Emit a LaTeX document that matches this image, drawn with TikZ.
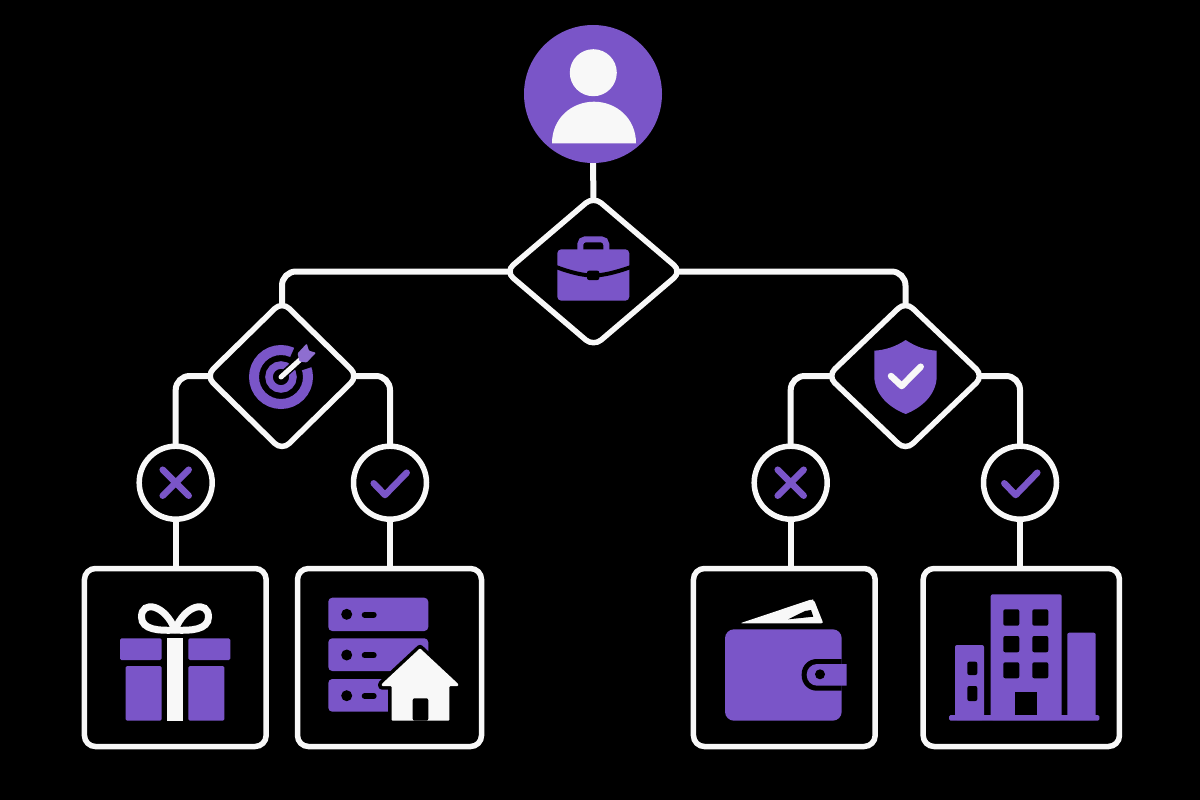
\documentclass[tikz,border=0pt]{standalone}
\usepackage{xcolor}
\usetikzlibrary{shapes.geometric,backgrounds}

\definecolor{brand}{HTML}{7A55C8}
\definecolor{ink}{HTML}{F8F8F8}

\begin{document}
\begin{tikzpicture}[
          x=1pt, y=-1pt,
          wire/.style={draw=ink, line width=6pt, rounded corners=14pt},
          choice/.style={diamond, draw=ink, fill=black, line width=5.5pt, rounded corners=10pt, inner sep=0pt, outer sep=0pt},
          answer/.style={circle, draw=ink, fill=black, line width=5.5pt, minimum size=73pt, inner sep=0pt, outer sep=0pt},
          tile/.style={rectangle, draw=ink, fill=black, line width=5.5pt, rounded corners=11pt, minimum height=178pt, inner sep=0pt, outer sep=0pt},
          solid mark/.style={draw=brand, line width=6.5pt, line cap=round, line join=round},
          hole/.style={fill=black, rounded corners=2pt},
          flat/.style={fill=brand, rounded corners=2pt}
        ]
          \useasboundingbox (0,0) rectangle (1200,800);

          % Top of the tree
          \node[circle, fill=brand, minimum size=138pt, inner sep=0pt, outer sep=0pt] (user) at (593,94) {};
          \node[choice, minimum width=176pt, minimum height=150pt] (role) at (593.5,271.5) {};

          % Second level
          \node[choice, minimum width=152pt, minimum height=149pt] (goal) at (282,376) {};
          \node[choice, minimum width=156pt, minimum height=149pt] (secure) at (905.5,376) {};

          % Answers
          \node[answer] (noA) at (175.7,482.7) {};
          \node[answer] (yesA) at (390,482.7) {};
          \node[answer] (noB) at (790.7,482.7) {};
          \node[answer] (yesB) at (1020,482.7) {};

          % Results
          \node[tile, minimum width=181.7pt] (gift) at (175.3,657.5) {};
          \node[tile, minimum width=184pt] (homeserver) at (389.5,657.5) {};
          \node[tile, minimum width=181.7pt] (wallet) at (784.3,657.5) {};
          \node[tile, minimum width=196.3pt] (office) at (1021.3,657.5) {};

          % Connections
          \begin{scope}[on background layer]
            \fill[black] (0,0) rectangle (1200,800);
            \draw[wire] (user.center) -- (role.center);
            \draw[wire] (role.center) -| (goal.center);
            \draw[wire] (role.center) -| (secure.center);
            \draw[wire] (goal.center) -| (noA.center);
            \draw[wire] (goal.center) -| (yesA.center);
            \draw[wire] (secure.center) -| (noB.center);
            \draw[wire] (secure.center) -| (yesB.center);
            \draw[wire] (noA.center) -- (noA.center |- gift.center);
            \draw[wire] (yesA.center) -- (yesA.center |- homeserver.center);
            \draw[wire] (noB.center) -- (noB.center |- wallet.center);
            \draw[wire] (yesB.center) -- (yesB.center |- office.center);
          \end{scope}

          % Person
          \fill[ink] (593.3,72.7) circle[radius=23.5];
          \fill[ink] (552,143.3) .. controls (552,118) and (572,101.7) .. (594,101.7) .. controls (616,101.7) and (636,118) .. (636,143.3) -- cycle;

          % Briefcase
          \draw[draw=brand, line width=6pt, rounded corners=5pt] (580.3,255) -- (580.3,239.3) -- (606.3,239.3) -- (606.3,255);
          \fill[flat, rounded corners=4pt] (557.3,249.3) rectangle (629.3,300.7);
          \draw[black, line width=4pt] (556,267) .. controls (572,273) and (584,275.5) .. (593,275.5) .. controls (602,275.5) and (614,273) .. (631,267);
          \fill[hole] (587,270.7) rectangle (599.3,280);

          % Target
          \draw[brand, line width=10pt] (281,377) circle[radius=27];
          \draw[brand, line width=7.5pt] (281,377) circle[radius=12];
          \fill[black] (289.8,358) -- (297,342) -- (317.5,365) -- (301,370.5) -- cycle;
          \draw[black, line width=8pt] (284,374) -- (301.7,358.3);
          \draw[ink, line width=5pt, line cap=round] (281,377) -- (301.7,358.3);
          \fill[brand!85!white, rounded corners=1pt] (297.5,353.5) -- (306.7,343.5) -- (309,350.7) -- (316,352.7) -- (306.7,362.5) -- (299.5,361.5) -- cycle;

          % Shield
          \fill[brand] (905.7,340) .. controls (895,347) and (885,350) .. (874.3,350.7) -- (874.3,376) .. controls (874.3,395) and (890,408) .. (905.7,414) .. controls (921,408) and (936.7,395) .. (936.7,376) -- (936.7,350.7) .. controls (926,350) and (916,347) .. (905.7,340) -- cycle;
          \draw[ink, line width=6.5pt, line cap=round, line join=round] (891,376) -- (901.7,386) -- (920.7,366.7);

          % Crosses and ticks
          \draw[solid mark] (162.7,469.7) -- (188.7,495.7) (188.7,469.7) -- (162.7,495.7);
          \draw[solid mark] (777.7,469.7) -- (803.7,495.7) (803.7,469.7) -- (777.7,495.7);
          \draw[solid mark] (373.7,483.3) -- (385,495) -- (406.7,472.7);
          \draw[solid mark] (1004.3,483.3) -- (1015.7,495) -- (1037.3,472.7);

          % Gift
          \fill[flat, rounded corners=1.5pt] (120,638.3) rectangle (161.7,660);
          \fill[flat, rounded corners=1.5pt] (188.3,638.3) rectangle (230.3,660);
          \fill[flat, rounded corners=1.5pt] (125.7,666) rectangle (161.7,720.7);
          \fill[flat, rounded corners=1.5pt] (188.3,666) rectangle (224.3,720.7);
          \fill[ink] (166.7,638.3) rectangle (183.3,720.7);
          \draw[ink, line width=7pt] (175,630) .. controls (165,604) and (141.5,600) .. (141.5,617) .. controls (141.5,630) and (160,631) .. (175,630);
          \draw[ink, line width=7pt] (175,630) .. controls (185,604) and (208.5,600) .. (208.5,617) .. controls (208.5,630) and (190,631) .. (175,630);

          % Server and house
          \fill[flat, rounded corners=4pt] (328.3,597.7) rectangle (428.3,631);
          \fill[flat, rounded corners=4pt] (328.3,638.3) rectangle (428.3,671);
          \fill[flat, rounded corners=4pt] (328.3,679) rectangle (428.3,711.7);
          \fill[black] (346.7,614.3) circle[radius=5.5];
          \fill[black] (346.7,655) circle[radius=5.5];
          \fill[black] (346.7,695.7) circle[radius=5.5];
          \draw[black, line width=6pt, line cap=round] (364.7,614.7) -- (373.7,614.7);
          \draw[black, line width=6pt, line cap=round] (364.7,655.3) -- (373.7,655.3);
          \draw[black, line width=6pt, line cap=round] (364.7,696) -- (373.7,696);
          \draw[black, line width=7pt, line join=round] (420,648.3) -- (458.3,684) -- (458.3,686) -- (449.3,686) -- (449.3,720.7) -- (391.7,720.7) -- (391.7,686) -- (381.7,686) -- (381.7,684) -- cycle;
          \fill[ink, rounded corners=1pt] (420,648.3) -- (458.3,684) -- (458.3,686) -- (449.3,686) -- (449.3,720.7) -- (391.7,720.7) -- (391.7,686) -- (381.7,686) -- (381.7,684) -- cycle;
          \fill[hole] (412.7,720.7) -- (412.7,698.3) -- (428.3,698.3) -- (428.3,720.7) -- cycle;

          % Wallet
          \fill[ink, rounded corners=2pt] (740,623.3) -- (811.7,599.3) -- (814,600) -- (823.3,623.3) -- cycle;
          \fill[black] (788.3,619.3) -- (805,611) -- (811,610) -- (813.3,616.7) -- cycle;
          \fill[flat, rounded corners=9pt] (725,629.3) rectangle (841.7,720.7);
          \fill[black] (841.7,659) -- (820,659) [rounded corners=15pt] -- (801.7,659) -- (801.7,690.7) [sharp corners] -- (820,690.7) -- (841.7,690.7) -- cycle;
          \fill[brand] (846.7,664) -- (820,664) [rounded corners=10.5pt] -- (806.7,664) -- (806.7,685.7) [sharp corners] -- (820,685.7) -- (846.7,685.7) -- cycle;
          \fill[black] (820,674.3) circle[radius=5];

          % Office blocks
          \fill[flat] (990.7,594.3) rectangle (1061.7,720);
          \fill[flat] (955,645) rectangle (984,720);
          \fill[flat] (1067.3,632.7) rectangle (1095.7,720);
          \fill[brand, rounded corners=1.5pt] (949,715) rectangle (1099.3,720.7);
          \fill[hole] (1003.3,609.3) rectangle (1019.3,625.7);
          \fill[hole] (1032.3,609.3) rectangle (1048.3,625.7);
          \fill[hole] (1003.3,636) rectangle (1019.3,652.3);
          \fill[hole] (1032.3,636) rectangle (1048.3,652.3);
          \fill[hole] (1003.3,662.3) rectangle (1019.3,678.3);
          \fill[hole] (1032.3,662.3) rectangle (1048.3,678.3);
          \fill[black] (1015,691.7) rectangle (1036.7,715);
          \fill[hole] (967.3,661.7) rectangle (977.3,675);
          \fill[hole] (967.3,686) rectangle (977.3,701);
        \end{tikzpicture}
\end{document}
